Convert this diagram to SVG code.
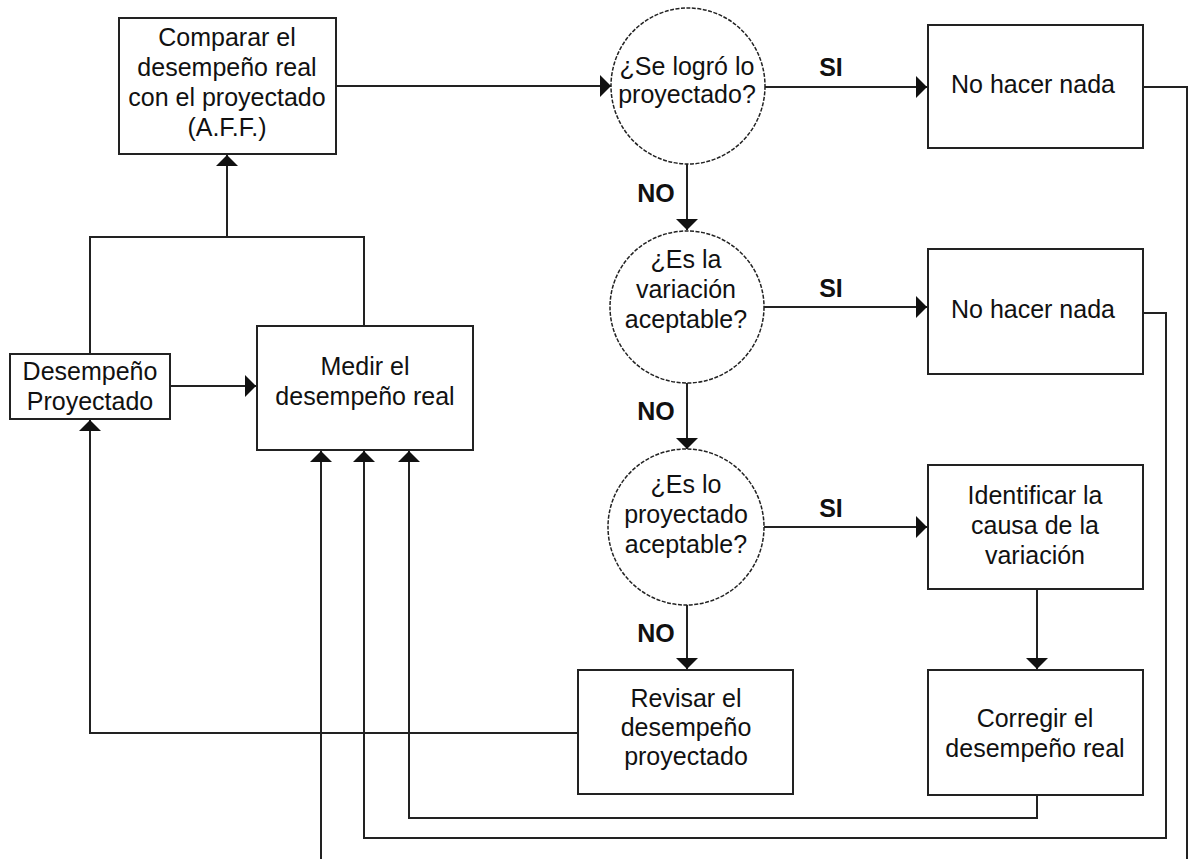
<svg xmlns="http://www.w3.org/2000/svg" width="1188" height="859" viewBox="0 0 1188 859">
<style>
.box{fill:#fff;stroke:#222;stroke-width:2}
.dec{fill:#fff;stroke:#222;stroke-width:1.5;stroke-dasharray:4 1.5}
.t{font-family:"Liberation Sans",Arial,sans-serif;font-size:25px;fill:#111;text-anchor:middle}
.lbl{font-family:"Liberation Sans",Arial,sans-serif;font-size:25px;font-weight:bold;fill:#111;text-anchor:middle}
.c{fill:none;stroke:#222;stroke-width:2}
</style>
<defs>
<marker id="ah" viewBox="0 0 11 22" refX="11" refY="11" markerWidth="11" markerHeight="22" markerUnits="userSpaceOnUse" orient="auto">
<path d="M0,0 L11,11 L0,22 z" fill="#111"/>
</marker>
</defs>
<rect width="1188" height="859" fill="#fff"/>
<g id="connectors">
<path class="c" d="M336,86 H611" marker-end="url(#ah)"/>
<path class="c" d="M687,164 V230" marker-end="url(#ah)"/>
<path class="c" d="M687,383 V449" marker-end="url(#ah)"/>
<path class="c" d="M687,605 V669" marker-end="url(#ah)"/>
<path class="c" d="M765,87 H927" marker-end="url(#ah)"/>
<path class="c" d="M764,307 H927" marker-end="url(#ah)"/>
<path class="c" d="M764,527 H927" marker-end="url(#ah)"/>
<path class="c" d="M1037,589 V669" marker-end="url(#ah)"/>
<path class="c" d="M1143,87 H1187 V860"/>
<path class="c" d="M1143,313 H1166 V838 H364 V451" marker-end="url(#ah)"/>
<path class="c" d="M1037,795 V818 H409 V451" marker-end="url(#ah)"/>
<path class="c" d="M321,860 V451" marker-end="url(#ah)"/>
<path class="c" d="M578,733 H90 V420" marker-end="url(#ah)"/>
<path class="c" d="M90,354 V237 H364 V326"/>
<path class="c" d="M227,237 V155" marker-end="url(#ah)"/>
<path class="c" d="M170,386 V386 H256" marker-end="url(#ah)"/>
</g>
<g id="labels">
<text class="lbl" x="831" y="76">SI</text>
<text class="lbl" x="831" y="297">SI</text>
<text class="lbl" x="831" y="517">SI</text>
<text class="lbl" x="656" y="202">NO</text>
<text class="lbl" x="656" y="420">NO</text>
<text class="lbl" x="656" y="642">NO</text>
</g>
<g id="comparar">
<rect class="box" x="119" y="18" width="217" height="136"/>
<text class="t" x="227" y="46">Comparar el</text>
<text class="t" x="227" y="76">desempeño real</text>
<text class="t" x="227" y="106">con el proyectado</text>
<text class="t" x="227" y="136">(A.F.F.)</text>
</g>
<g id="desempeno-proyectado">
<rect class="box" x="10" y="354" width="160" height="65"/>
<text class="t" x="90" y="380">Desempeño</text>
<text class="t" x="90" y="410">Proyectado</text>
</g>
<g id="medir">
<rect class="box" x="257" y="326" width="216" height="124"/>
<text class="t" x="365" y="375">Medir el</text>
<text class="t" x="365" y="405">desempeño real</text>
</g>
<g id="q1">
<ellipse class="dec" cx="688" cy="86" rx="77" ry="78"/>
<text class="t" x="687" y="75">¿Se logró lo</text>
<text class="t" x="687" y="103">proyectado?</text>
</g>
<g id="q2">
<ellipse class="dec" cx="687" cy="307" rx="77" ry="76"/>
<text class="t" x="686" y="268">¿Es la</text>
<text class="t" x="686" y="298">variación</text>
<text class="t" x="686" y="328">aceptable?</text>
</g>
<g id="q3">
<ellipse class="dec" cx="686" cy="527" rx="78" ry="78"/>
<text class="t" x="686" y="493">¿Es lo</text>
<text class="t" x="686" y="523">proyectado</text>
<text class="t" x="686" y="553">aceptable?</text>
</g>
<g id="nada1">
<rect class="box" x="928" y="25" width="215" height="123"/>
<text class="t" x="1033" y="93">No hacer nada</text>
</g>
<g id="nada2">
<rect class="box" x="928" y="249" width="215" height="125"/>
<text class="t" x="1033" y="318">No hacer nada</text>
</g>
<g id="identificar">
<rect class="box" x="928" y="465" width="215" height="124"/>
<text class="t" x="1035" y="504">Identificar la</text>
<text class="t" x="1035" y="534">causa de la</text>
<text class="t" x="1035" y="564">variación</text>
</g>
<g id="corregir">
<rect class="box" x="928" y="670" width="215" height="125"/>
<text class="t" x="1035" y="727">Corregir el</text>
<text class="t" x="1035" y="757">desempeño real</text>
</g>
<g id="revisar">
<rect class="box" x="578" y="670" width="215" height="124"/>
<text class="t" x="686" y="707">Revisar el</text>
<text class="t" x="686" y="736">desempeño</text>
<text class="t" x="686" y="765">proyectado</text>
</g>
</svg>
